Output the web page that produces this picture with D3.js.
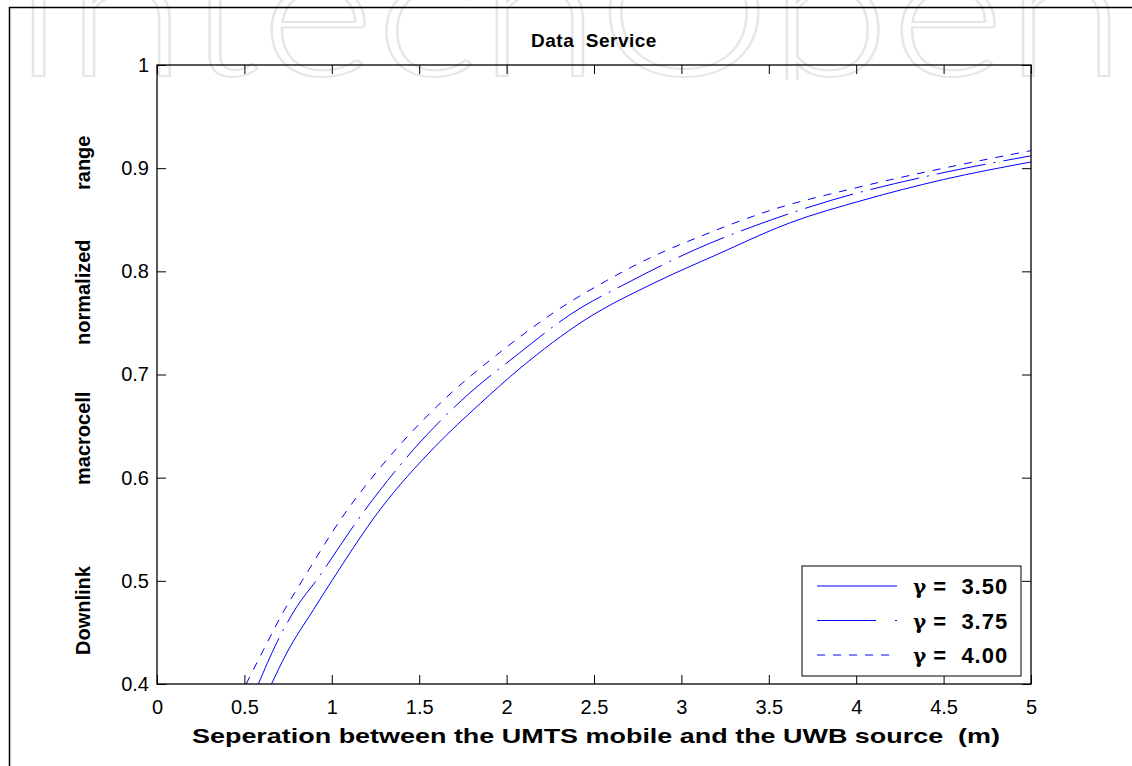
<!DOCTYPE html>
<html>
<head>
<meta charset="utf-8">
<script src="https://cdn.jsdelivr.net/npm/d3@7/dist/d3.min.js"></script>
<style>
  body { margin: 0; background: #fff; }
  svg text { font-family: "Liberation Sans", Arial, sans-serif; }
</style>
</head>
<body>
<div id="chart"></div>
<script>
// DATA: [separation (m), normalized range]
var gamma350 = [[0.655,0.400],[0.742,0.430],[0.895,0.472],[1.0,0.500],[1.276,0.569],[1.59,0.630],[1.85,0.672],
  [2.077,0.706],[2.449,0.753],[2.86,0.790],[3.2,0.816],[3.62,0.847],[4.04,0.869],[4.5,0.889],[5.0,0.906]];
var gamma375 = [[0.58,0.400],[0.685,0.440],[0.80,0.475],[0.91,0.500],[1.161,0.562],[1.466,0.627],[1.743,0.675],
  [2.067,0.720],[2.363,0.758],[2.716,0.791],[3.078,0.821],[3.516,0.850],[3.86,0.869],[4.4,0.892],[5.0,0.912]];
var gamma400 = [[0.51,0.400],[0.618,0.436],[0.723,0.470],[0.83,0.500],[1.057,0.561],[1.38,0.630],[1.638,0.675],
  [1.981,0.724],[2.305,0.764],[2.572,0.791],[2.82,0.813],[3.125,0.835],[3.526,0.860],[4.0,0.881],[4.5,0.900],[5.0,0.917]];

var gammaValues = ["3.50", "3.75", "4.00"];
var xTicks = [0, 0.5, 1, 1.5, 2, 2.5, 3, 3.5, 4, 4.5, 5];
var xTickLabels = ["0", "0.5", "1", "1.5", "2", "2.5", "3", "3.5", "4", "4.5", "5"];
var yTicks = [0.4, 0.5, 0.6, 0.7, 0.8, 0.9, 1];
var yTickLabels = ["0.4", "0.5", "0.6", "0.7", "0.8", "0.9", "1"];
var yTitleWords = ["Downlink", "macrocell", "normalized", "range"];

var W = 1132, H = 766;
var margin = {top: 65, right: 101, bottom: 82, left: 157};
var width = W - margin.left - margin.right,
    height = H - margin.top - margin.bottom;

var svg = d3.select("#chart").append("svg")
  .attr("width", W)
  .attr("height", H);

//WATERMARK (only the lower part of the logo shows at the top of the picture)
svg.append("clipPath").attr("id", "wmclip")
  .append("rect").attr("width", W).attr("height", 80);

svg.append("text")
  .attr("clip-path", "url(#wmclip)")
  .attr("x", 10)
  .attr("y", 76)
  .attr("textLength", 1116)
  .attr("lengthAdjust", "spacingAndGlyphs")
  .style("font-family", "Lato, 'Liberation Sans', sans-serif")
  .style("font-weight", 300)
  .style("font-size", "180px")
  .attr("fill", "none")
  .attr("stroke", "#e6e6e6")
  .attr("stroke-width", 2)
  .text("IntechOpen");

//OUTER FIGURE FRAME
svg.append("rect")
  .attr("x", 9.5)
  .attr("y", 7.5)
  .attr("width", W + 20)
  .attr("height", H + 20)
  .attr("fill", "none")
  .attr("stroke", "black")
  .attr("stroke-width", 1.5);

//SCALES
var xScale = d3.scaleLinear().domain([0, 5]).range([0, width]);
var yScale = d3.scaleLinear().domain([0.4, 1]).range([height, 0]);

var g = svg.append("g")
  .attr("transform", `translate(${margin.left}, ${margin.top})`);

g.append("clipPath").attr("id", "plotclip")
  .append("rect").attr("width", width).attr("height", height);

//AXES (ticks point inward, mirrored on top and right like matlab)
var tickLen = 9;
var xAxis = d3.axisBottom(xScale).tickValues(xTicks)
  .tickFormat(function(d, i) { return xTickLabels[i]; })
  .tickSizeInner(-tickLen).tickSizeOuter(0).tickPadding(16);
var yAxis = d3.axisLeft(yScale).tickValues(yTicks)
  .tickFormat(function(d, i) { return yTickLabels[i]; })
  .tickSizeInner(-tickLen).tickSizeOuter(0).tickPadding(8);
var xAxisTop = d3.axisTop(xScale).tickValues(xTicks).tickFormat("")
  .tickSizeInner(-tickLen).tickSizeOuter(0);
var yAxisRight = d3.axisRight(yScale).tickValues(yTicks).tickFormat("")
  .tickSizeInner(-tickLen).tickSizeOuter(0);

g.append("g").attr("class", "axis")
  .attr("transform", `translate(0, ${height})`).call(xAxis);
g.append("g").attr("class", "axis").call(yAxis);
g.append("g").attr("class", "axis").call(xAxisTop);
g.append("g").attr("class", "axis")
  .attr("transform", `translate(${width}, 0)`).call(yAxisRight);

g.selectAll(".axis .domain").remove();
g.selectAll(".axis line").attr("stroke", "black").attr("stroke-width", 1);
g.selectAll(".axis text")
  .attr("fill", "black")
  .style("font-size", "20px");

//CURVES
var line = d3.line()
  .x(function(d) { return xScale(d[0]); })
  .y(function(d) { return yScale(d[1]); })
  .curve(d3.curveMonotoneX);

var series = [
  {data: gamma350, dash: null},
  {data: gamma375, dash: "50,8,2,8"},
  {data: gamma400, dash: "8,8"}
];

g.append("g").attr("clip-path", "url(#plotclip)")
  .selectAll("path").data(series).enter()
  .append("path")
  .attr("d", function(d) { return line(d.data); })
  .attr("fill", "none")
  .attr("stroke", "#0000ff")
  .attr("stroke-width", 1)
  .attr("stroke-dasharray", function(d) { return d.dash; });

//PLOT BOX
g.append("rect")
  .attr("width", width)
  .attr("height", height)
  .attr("fill", "none")
  .attr("stroke", "black")
  .attr("stroke-width", 1.3);

//TITLES
svg.append("text")
  .attr("x", margin.left + width / 2)
  .attr("y", 47)
  .attr("text-anchor", "middle")
  .style("font-size", "19px")
  .style("font-weight", "bold")
  .style("letter-spacing", "0.5px")
  .style("white-space", "pre")
  .text("Data  Service");

svg.append("text")
  .attr("x", 192)
  .attr("y", 743)
  .attr("textLength", 808)
  .attr("lengthAdjust", "spacingAndGlyphs")
  .style("font-size", "21px")
  .style("font-weight", "bold")
  .style("white-space", "pre")
  .text("Seperation between the UMTS mobile and the UWB source  (m)");

//Y TITLE: words spaced apart as in the original figure
var wordOffsets = [0, 170, 310, 465];
svg.append("text")
  .attr("transform", "translate(90, 655) rotate(-90)")
  .style("font-size", "20px")
  .style("font-weight", "bold")
  .selectAll("tspan").data(yTitleWords).enter()
  .append("tspan")
  .attr("x", function(d, i) { return wordOffsets[i]; })
  .text(function(d) { return d; });

//LEGEND
var legend = svg.append("g").attr("transform", "translate(802, 566)");
legend.append("rect")
  .attr("width", 219)
  .attr("height", 110)
  .attr("fill", "white")
  .attr("stroke", "black")
  .attr("stroke-width", 1);

var rows = legend.selectAll("g.row").data(series).enter()
  .append("g").attr("class", "row")
  .attr("transform", function(d, i) { return `translate(0, ${20 + i * 34.5})`; });

rows.append("line")
  .attr("x1", 15).attr("x2", 95)
  .attr("stroke", "#0000ff")
  .attr("stroke-width", 1)
  .attr("stroke-dasharray", function(d, i) { return i === 1 ? "59,19,2,19" : d.dash; });

var labels = rows.append("text")
  .attr("x", 111)
  .attr("y", 8)
  .style("font-size", "22px")
  .style("font-weight", "bold")
  .style("white-space", "pre");
labels.append("tspan")
  .style("font-family", "'DejaVu Serif', serif")
  .style("font-size", "20px")
  .text("\u03b3");
labels.append("tspan")
  .style("letter-spacing", "1px")
  .text(function(d, i) { return " =  " + gammaValues[i]; });
</script>
</body>
</html>
